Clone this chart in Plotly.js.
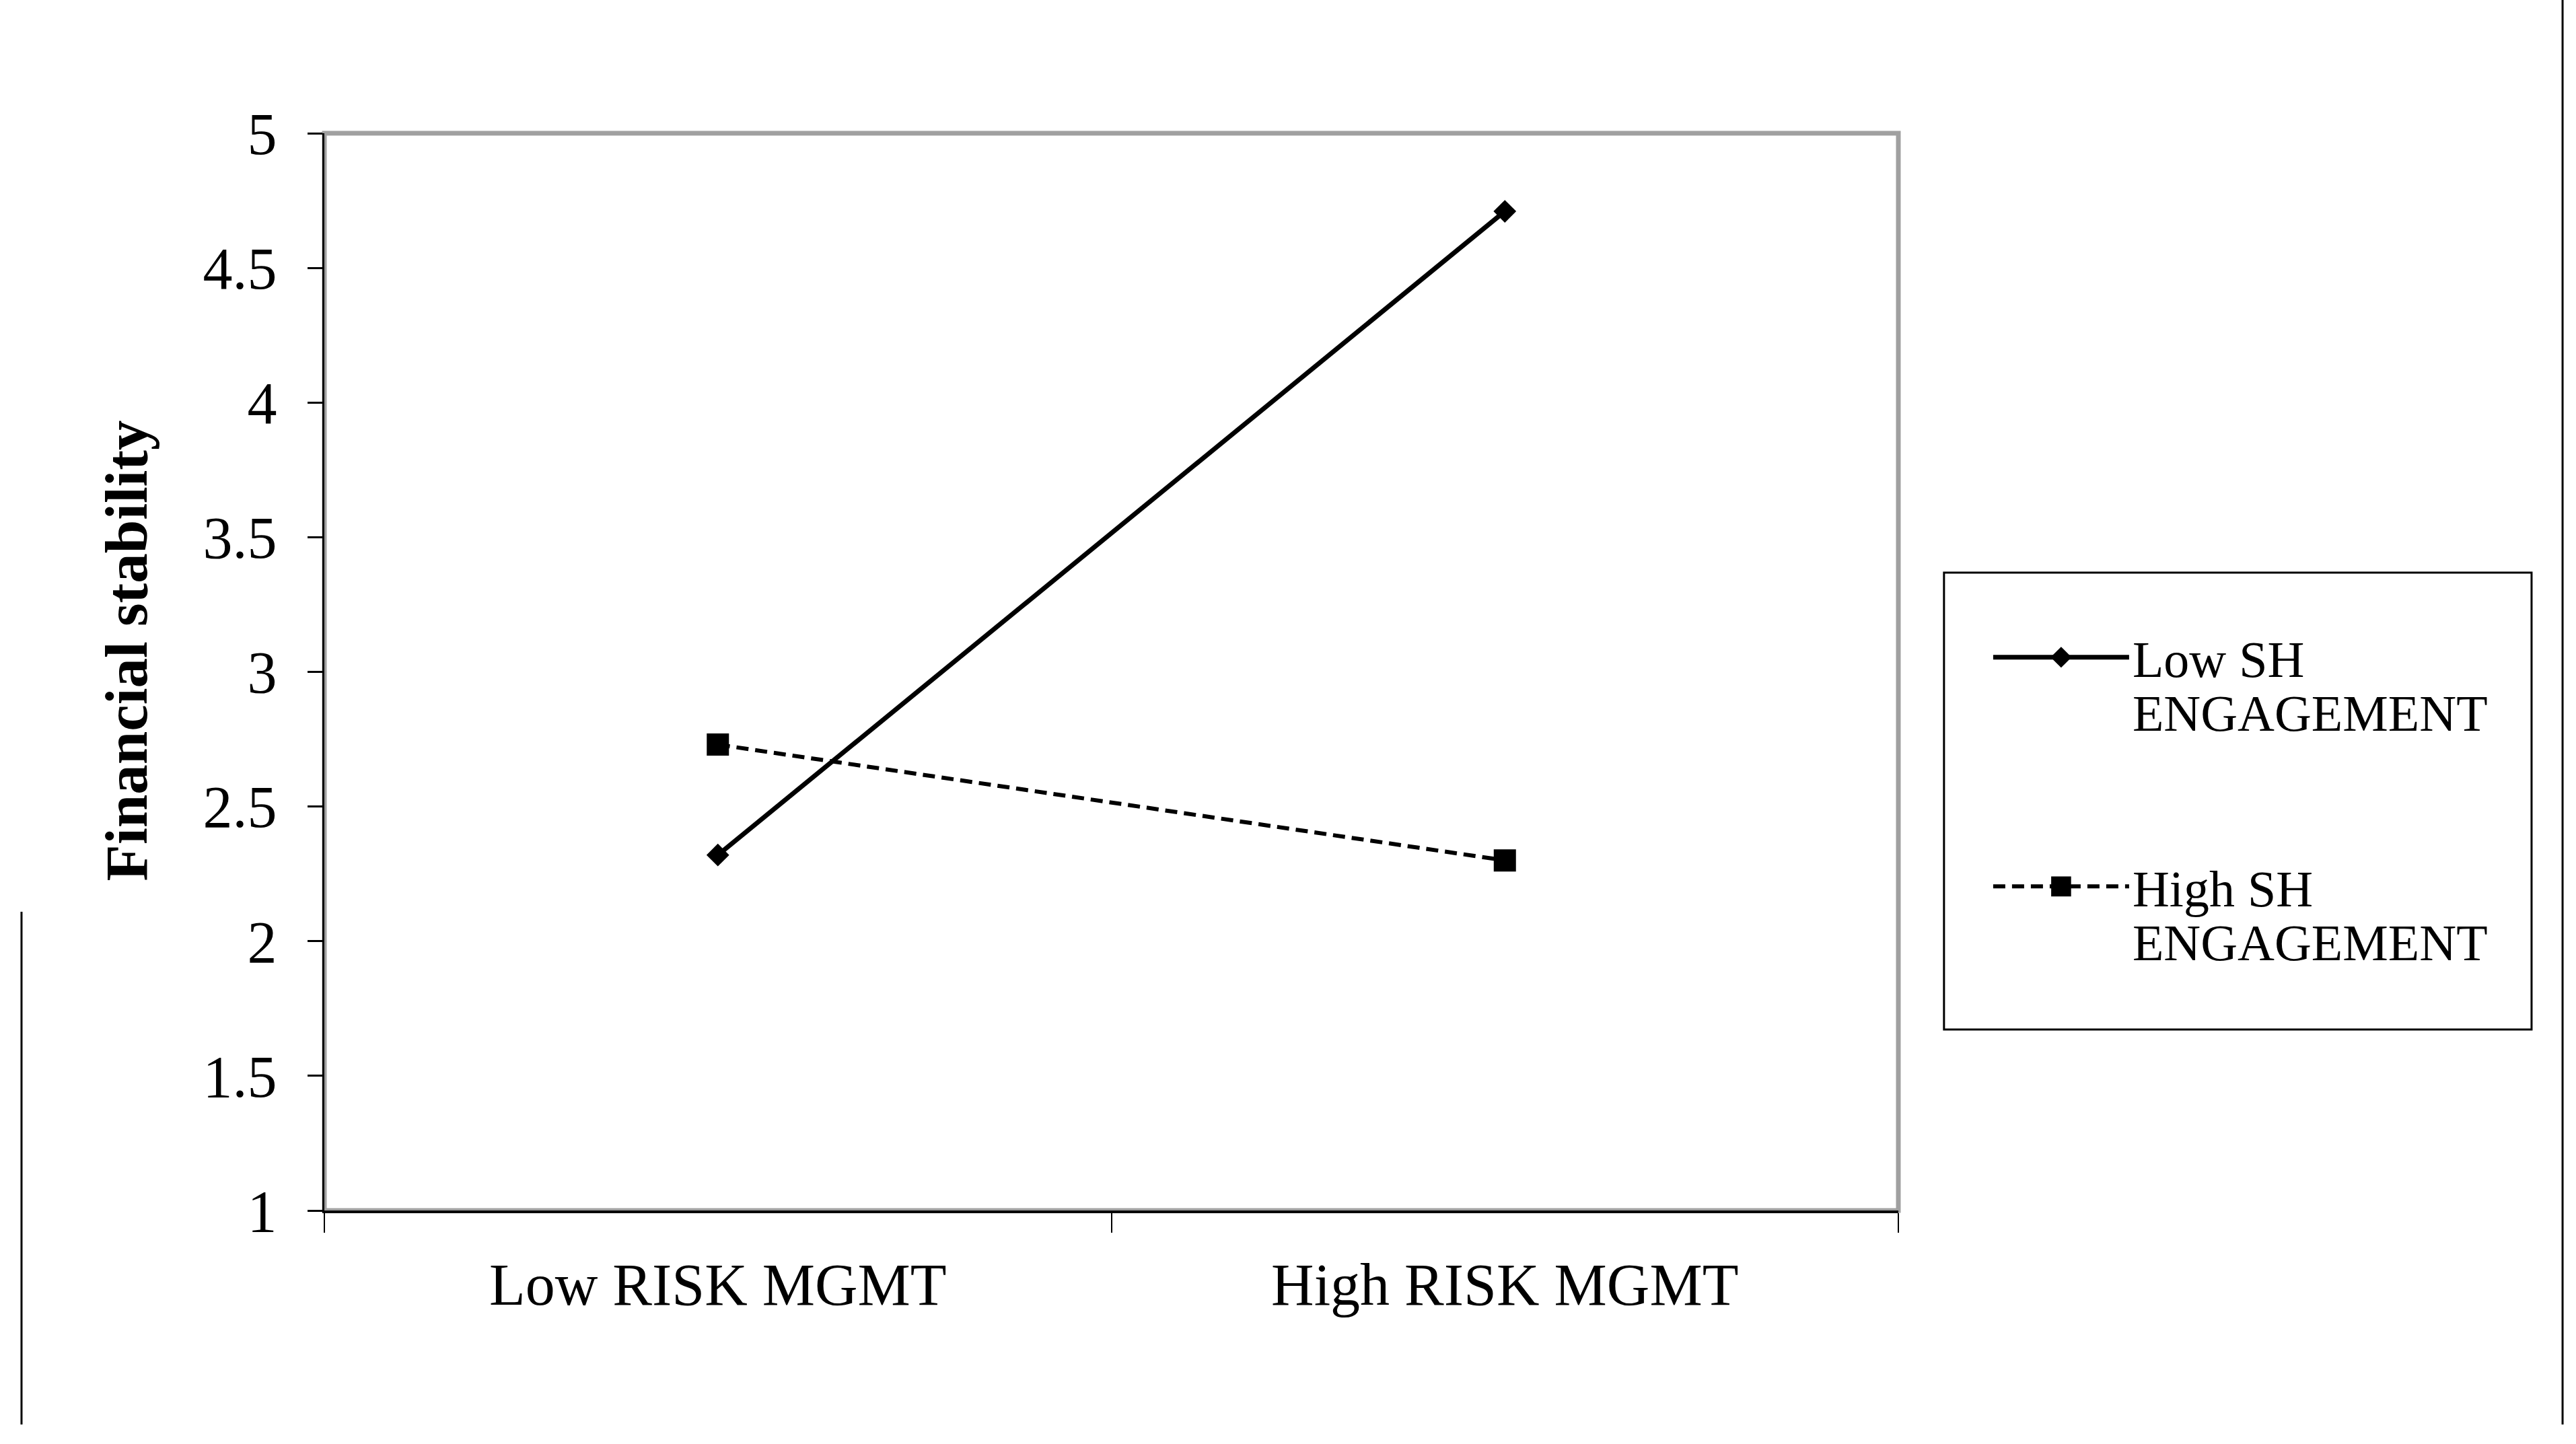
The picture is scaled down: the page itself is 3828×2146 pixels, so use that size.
<!DOCTYPE html>
<html>
<head>
<meta charset="utf-8">
<script src="https://cdn.plot.ly/plotly-3.0.1.min.js"></script>
<style>
  html, body { margin: 0; padding: 0; background: #ffffff; }
  #chart { width: 3828px; height: 2146px; }
</style>
</head>
<body>
<div id="chart"></div>
<script>
// ---- data ----
const categories = ["Low RISK MGMT", "High RISK MGMT"];
const lowSH = [2.32, 4.71];
const highSH = [2.73, 2.30];
const seriesNames = ["Low SH<br>ENGAGEMENT", "High SH<br>ENGAGEMENT"];
const yTickVals = [1, 1.5, 2, 2.5, 3, 3.5, 4, 4.5, 5];
const yTickText = ["1", "1.5", "2", "2.5", "3", "3.5", "4", "4.5", "5"];
const yTitle = "Financial stability";

const FONT = "Liberation Serif, Times New Roman, serif";

const traces = [
  {
    x: categories, y: lowSH, name: seriesNames[0], type: "scatter", mode: "lines+markers",
    line: { color: "#000000", width: 7 },
    marker: { symbol: "diamond", size: 26, color: "#000000" },
    legendgroup: "a"
  },
  {
    x: categories, y: highSH, name: seriesNames[1], type: "scatter", mode: "lines+markers",
    line: { color: "#000000", width: 6, dash: "18px,10px" },
    marker: { symbol: "square", size: 33, color: "#000000" },
    legendgroup: "b"
  }
];

const layout = {
  width: 3828, height: 2146, autosize: false,
  paper_bgcolor: "#ffffff", plot_bgcolor: "#ffffff",
  margin: { l: 482, r: 1007, t: 198, b: 347, pad: 0 },
  font: { family: FONT, color: "#000000", size: 88 },
  xaxis: {
    type: "category", range: [-0.5, 1.5], tickson: "boundaries",
    showgrid: false, zeroline: false,
    showline: true, linecolor: "#000000", linewidth: 4,
    ticks: "outside", ticklen: 29, tickwidth: 2, tickcolor: "#000000",
    tickfont: { family: FONT, size: 88, color: "#000000" },
    ticklabelstandoff: 30
  },
  yaxis: {
    range: [1, 5], tickvals: yTickVals, ticktext: yTickText,
    showgrid: false, zeroline: false,
    showline: true, linecolor: "#000000", linewidth: 3,
    ticks: "outside", ticklen: 22, tickwidth: 3, tickcolor: "#000000",
    tickfont: { family: FONT, size: 88, color: "#000000" },
    ticklabelstandoff: 28
  },
  annotations: [
    { text: "<b>" + yTitle + "</b>", xref: "paper", yref: "paper",
      x: -0.1255, y: 0.5197, xanchor: "center", yanchor: "middle",
      textangle: -90, showarrow: false,
      font: { family: FONT, size: 89, color: "#000000" } }
  ],
  showlegend: true,
  legend: {
    x: 1.0581, y: 0.5485, xanchor: "left", yanchor: "top",
    bgcolor: "rgba(0,0,0,0)", borderwidth: 0,
    font: { family: FONT, size: 76, color: "#000000" },
    itemwidth: 202, valign: "top",
    traceorder: "grouped", tracegroupgap: 140
  },
  shapes: [
    // gray plot-area frame
    { type: "rect", xref: "paper", yref: "paper", x0: 0, x1: 1, y0: 0, y1: 1,
      line: { color: "#a0a0a0", width: 7 }, layer: "below" },
    // legend box
    { type: "rect", xref: "paper", yref: "paper", x0: 1.029, x1: 1.4023, y0: 0.168, y1: 0.5921,
      line: { color: "#000000", width: 3 }, layer: "below" },
    // outer chart frame pieces
    { type: "line", xref: "paper", yref: "paper", x0: -0.1924, x1: -0.1924, y0: -0.1986, y1: 0.2773,
      line: { color: "#000000", width: 3 } },
    { type: "line", xref: "paper", yref: "paper", x0: 1.422, x1: 1.422, y0: -0.1986, y1: 1.1237,
      line: { color: "#000000", width: 3 } }
  ]
};

Plotly.newPlot("chart", traces, layout, { displayModeBar: false, staticPlot: true }).then(function (gd) {
  // enlarge legend symbols (plotly caps legend marker size at 16px)
  const scales = [1.5, 1.85];
  const groups = gd.querySelectorAll(".legend .traces");
  groups.forEach(function (g, i) {
    g.querySelectorAll(".legendpoints path.scatterpts").forEach(function (p) {
      const t = p.getAttribute("transform") || "";
      p.setAttribute("transform", t + " scale(" + scales[i] + ")");
    });
  });
  // tighter line spacing in legend labels, like the reference
  gd.querySelectorAll(".legend text.legendtext tspan.line").forEach(function (ts) {
    if (ts.getAttribute("dy") === "1.3em") ts.setAttribute("dy", "1.05em");
  });
});
</script>
</body>
</html>
